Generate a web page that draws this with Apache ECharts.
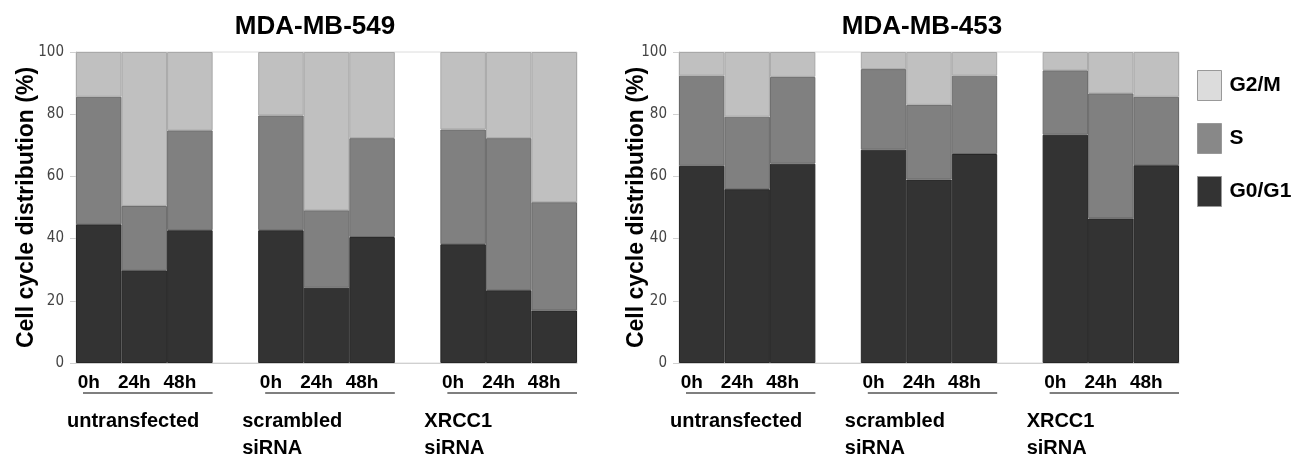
<!DOCTYPE html>
<html>
<head>
<meta charset="utf-8">
<script src="https://cdn.jsdelivr.net/npm/echarts@6/dist/echarts.min.js"></script>
<style>
html,body{margin:0;padding:0;background:#fff;}
#c{width:1293px;height:456px;}
</style>
</head>
<body>
<div id="c"></div>
<script>
// ---- data ----
const xKeys = ['u0','u24','u48','gap1','s0','s24','s48','gap2','x0','x24','x48'];
const tickLabels = ['0h','24h','48h','','0h','24h','48h','','0h','24h','48h'];
const groupLabels = ['untransfected', 'scrambled\nsiRNA', 'XRCC1\nsiRNA'];
const titles = ['MDA-MB-549', 'MDA-MB-453'];

const left_G0G1 = [44.6, 29.8, 42.7, '-', 42.7, 24.2, 40.5, '-', 38.2, 23.4, 16.9];
const left_S    = [41.0, 20.7, 32.1, '-', 36.9, 24.9, 31.8, '-', 36.9, 48.9, 34.8];
const left_G2M  = [14.4, 49.5, 25.2, '-', 20.4, 50.9, 27.7, '-', 24.9, 27.7, 48.3];

const right_G0G1 = [63.4, 55.9, 64.1, '-', 68.6, 59.0, 67.2, '-', 73.4, 46.5, 63.6];
const right_S    = [29.0, 23.3, 27.9, '-', 25.9, 24.0, 25.2, '-', 20.7, 40.2, 22.0];
const right_G2M  = [ 7.6, 20.8,  8.0, '-',  5.5, 17.0,  7.6, '-',  5.9, 13.3, 14.4];

// ---- styles ----
const FONT = '"Liberation Sans", Arial, sans-serif';
const NARROW = '"DejaVu Sans Condensed", "Liberation Sans Narrow", "Liberation Sans", Arial, sans-serif';
const COL = {G0G1: '#333333', S: '#808080', G2M: '#c0c0c0'};
const BORDER = {G0G1: '#262626', S: '#6a6a6a', G2M: '#a8a8a8'};

const chart = echarts.init(document.getElementById('c'));

function xAxis(gi) {
  return {
    type: 'category', gridIndex: gi, data: xKeys,
    axisLine: {lineStyle: {color: '#d0d0d0'}},
    axisTick: {show: false},
    axisLabel: {
      interval: 0, margin: 10,
      formatter: (v, i) => tickLabels[i],
      fontFamily: FONT, fontWeight: 'bold', fontSize: 19, color: '#000',
      padding: [0, 20, 0, 0]
    }
  };
}
function yAxis(gi, gap) {
  return {
    type: 'value', gridIndex: gi, min: 0, max: 100, interval: 20,
    name: 'Cell cycle distribution (%)', nameLocation: 'middle', nameGap: gap,
    nameMoveOverlap: false,
    nameTextStyle: {fontFamily: FONT, fontWeight: 'bold', fontSize: 23, color: '#000'},
    axisLine: {show: true, lineStyle: {color: '#d0d0d0'}},
    axisTick: {show: true, length: 6, lineStyle: {color: '#d0d0d0'}},
    splitLine: {show: false},
    axisLabel: {fontFamily: NARROW, fontSize: 15, color: '#444', margin: 12}
  };
}
function bar(name, key, data, gi, stack) {
  return {
    type: 'bar', name, data, xAxisIndex: gi, yAxisIndex: gi, stack,
    barCategoryGap: '0%', barGap: '0%',
    itemStyle: {color: COL[key], borderColor: BORDER[key], borderWidth: 1},
    emphasis: {disabled: true}
  };
}

chart.setOption({
  animation: false,
  backgroundColor: '#fff',
  title: [
    {text: titles[0], left: 310, top: 9, textAlign: 'center',
     textStyle: {fontFamily: FONT, fontWeight: 'bold', fontSize: 26, color: '#000'}},
    {text: titles[1], left: 917, top: 9, textAlign: 'center',
     textStyle: {fontFamily: FONT, fontWeight: 'bold', fontSize: 26, color: '#000'}}
  ],
  grid: [
    {left: 76, width: 501, top: 52, height: 311, show: true, borderColor: '#dcdcdc', borderWidth: 1},
    {left: 679, width: 500, top: 52, height: 311, show: true, borderColor: '#dcdcdc', borderWidth: 1}
  ],
  legend: {
    orient: 'vertical', left: 1192, top: 65,
    itemWidth: 24, itemHeight: 30, itemGap: 22,
    textStyle: {fontFamily: FONT, fontWeight: 'bold', fontSize: 21, color: '#000', padding: [0, 0, 0, 3]},
    data: [
      {name: 'G2/M', icon: 'rect', itemStyle: {color: '#dcdcdc', borderColor: '#999', borderWidth: 1}},
      {name: 'S', icon: 'rect', itemStyle: {color: '#888888', borderColor: '#999', borderWidth: 1}},
      {name: 'G0/G1', icon: 'rect', itemStyle: {color: '#333333', borderColor: '#999', borderWidth: 1}}
    ],
    selectedMode: false
  },
  xAxis: [xAxis(0), xAxis(1)],
  yAxis: [yAxis(0, 38), yAxis(1, 31)],
  series: [
    bar('G0/G1', 'G0G1', left_G0G1, 0, 'L'),
    bar('S', 'S', left_S, 0, 'L'),
    bar('G2/M', 'G2M', left_G2M, 0, 'L'),
    bar('G0/G1', 'G0G1', right_G0G1, 1, 'R'),
    bar('S', 'S', right_S, 1, 'R'),
    bar('G2/M', 'G2M', right_G2M, 1, 'R')
  ]
});

// group underlines and group labels, positioned through the axes
const groups = [[0, 2], [4, 6], [8, 10]];
const elements = [];
[0, 1].forEach(gi => {
  groups.forEach((g, k) => {
    const a = chart.convertToPixel({xAxisIndex: gi, yAxisIndex: gi}, [xKeys[g[0]], 0]);
    const b = chart.convertToPixel({xAxisIndex: gi, yAxisIndex: gi}, [xKeys[g[1]], 0]);
    const half = (b[0] - a[0]) / 4;
    const x1 = a[0] - half + 7, x2 = b[0] + half;
    elements.push({
      type: 'line', silent: true,
      shape: {x1, y1: a[1] + 30, x2, y2: a[1] + 30},
      style: {stroke: '#555', lineWidth: 1.5}
    });
    const lx = k === 0 ? a[0] - half - 9 : a[0] - half - 16;
    elements.push({
      type: 'text', silent: true, x: lx, y: a[1] + 45,
      style: {text: groupLabels[k], fontFamily: FONT, fontWeight: 'bold', fontSize: 20,
              fill: '#000', lineHeight: 27, textVerticalAlign: 'top'}
    });
  });
});
chart.setOption({graphic: {elements}});
</script>
</body>
</html>
